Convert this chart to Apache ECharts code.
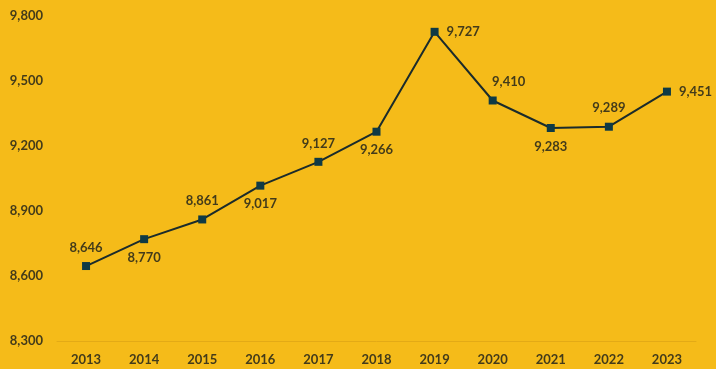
<!DOCTYPE html>
<html><head><meta charset="utf-8">
<script src="https://cdn.jsdelivr.net/npm/echarts@6/dist/echarts.min.js"></script>
<style>html,body{margin:0;padding:0;background:#F5BB19;}#c{width:716px;height:369px;}</style>
</head><body><div id="c"></div>
<script>
const years = ['2013','2014','2015','2016','2017','2018','2019','2020','2021','2022','2023'];
const values = [8646, 8770, 8861, 9017, 9127, 9266, 9727, 9410, 9283, 9289, 9451];
const labelPos = ['top','bottom','top','bottom','top','bottom','right','top','bottom','top','right'];
const yTicks = {min: 8300, max: 9800, interval: 300};

const txt = '#433B1A';
const font = 'Lato, "Open Sans", sans-serif';
const chart = echarts.init(document.getElementById('c'));
chart.setOption({
  backgroundColor: '#F5BB19',
  animation: false,
  grid: {left: 57, right: 20, top: 16, bottom: 28},
  xAxis: {
    type: 'category', data: years, boundaryGap: true,
    axisLine: {show: true, lineStyle: {color: '#E3AA16', width: 1}},
    axisTick: {show: false},
    axisLabel: {color: txt, fontWeight: 'bold', fontSize: 13, fontFamily: font, margin: 12}
  },
  yAxis: {
    type: 'value', min: yTicks.min, max: yTicks.max, interval: yTicks.interval,
    splitLine: {show: false}, axisLine: {show: false}, axisTick: {show: false},
    axisLabel: {color: txt, fontWeight: 'bold', fontSize: 13, fontFamily: font, margin: 14,
      formatter: v => v.toLocaleString('en-US')}
  },
  series: [{
    type: 'line',
    data: values.map((v, i) => ({value: v, label: {position: labelPos[i], offset: i === 7 ? [16, 0] : [0, 0]}})),
    symbol: 'rect', symbolSize: 8,
    lineStyle: {color: '#1B2B2B', width: 2},
    itemStyle: {color: '#0F3A45'},
    label: {show: true, color: txt, fontWeight: 'bold', fontSize: 13, fontFamily: font, distance: 8,
      formatter: p => p.value.toLocaleString('en-US')}
  }]
});
</script></body></html>
